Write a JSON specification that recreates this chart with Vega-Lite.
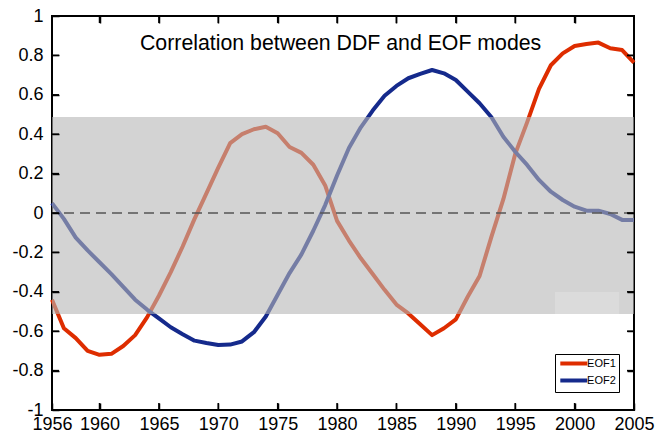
{
  "$schema": "https://vega.github.io/schema/vega-lite/v6.json",
  "width": 582,
  "height": 394,
  "autosize": {"type": "none"},
  "padding": {"left": 52, "top": 16, "right": 23, "bottom": 24},
  "background": "white",
  "config": {
    "view": {"stroke": "black", "strokeWidth": 2},
    "font": "Liberation Sans",
    "axis": {
      "grid": false,
      "domain": false,
      "labelColor": "black",
      "labelFont": "Liberation Sans",
      "labelFontSize": 18,
      "title": null
    }
  },
  "resolve": {"axis": {"x": "independent", "y": "independent"}},
  "layer": [
    {
      "data": {"values": [
        {"year": 1956, "EOF1": -0.44, "EOF2": 0.05},
        {"year": 1957, "EOF1": -0.585, "EOF2": -0.03},
        {"year": 1958, "EOF1": -0.635, "EOF2": -0.125},
        {"year": 1959, "EOF1": -0.70, "EOF2": -0.19},
        {"year": 1960, "EOF1": -0.72, "EOF2": -0.25},
        {"year": 1961, "EOF1": -0.715, "EOF2": -0.31},
        {"year": 1962, "EOF1": -0.675, "EOF2": -0.375},
        {"year": 1963, "EOF1": -0.62, "EOF2": -0.44},
        {"year": 1964, "EOF1": -0.53, "EOF2": -0.49},
        {"year": 1965, "EOF1": -0.42, "EOF2": -0.535},
        {"year": 1966, "EOF1": -0.30, "EOF2": -0.58},
        {"year": 1967, "EOF1": -0.17, "EOF2": -0.615},
        {"year": 1968, "EOF1": -0.03, "EOF2": -0.648},
        {"year": 1969, "EOF1": 0.10, "EOF2": -0.66},
        {"year": 1970, "EOF1": 0.23, "EOF2": -0.67},
        {"year": 1971, "EOF1": 0.355, "EOF2": -0.668},
        {"year": 1972, "EOF1": 0.40, "EOF2": -0.652},
        {"year": 1973, "EOF1": 0.425, "EOF2": -0.605},
        {"year": 1974, "EOF1": 0.438, "EOF2": -0.525},
        {"year": 1975, "EOF1": 0.405, "EOF2": -0.415},
        {"year": 1976, "EOF1": 0.335, "EOF2": -0.305},
        {"year": 1977, "EOF1": 0.305, "EOF2": -0.21},
        {"year": 1978, "EOF1": 0.245, "EOF2": -0.09},
        {"year": 1979, "EOF1": 0.14, "EOF2": 0.04},
        {"year": 1980, "EOF1": -0.04, "EOF2": 0.19},
        {"year": 1981, "EOF1": -0.14, "EOF2": 0.33},
        {"year": 1982, "EOF1": -0.23, "EOF2": 0.435},
        {"year": 1983, "EOF1": -0.31, "EOF2": 0.52},
        {"year": 1984, "EOF1": -0.39, "EOF2": 0.595},
        {"year": 1985, "EOF1": -0.465, "EOF2": 0.645},
        {"year": 1986, "EOF1": -0.51, "EOF2": 0.684},
        {"year": 1987, "EOF1": -0.565, "EOF2": 0.706},
        {"year": 1988, "EOF1": -0.62, "EOF2": 0.726},
        {"year": 1989, "EOF1": -0.585, "EOF2": 0.709},
        {"year": 1990, "EOF1": -0.54, "EOF2": 0.675},
        {"year": 1991, "EOF1": -0.425, "EOF2": 0.616},
        {"year": 1992, "EOF1": -0.32, "EOF2": 0.557},
        {"year": 1993, "EOF1": -0.12, "EOF2": 0.486},
        {"year": 1994, "EOF1": 0.07, "EOF2": 0.387},
        {"year": 1995, "EOF1": 0.30, "EOF2": 0.311},
        {"year": 1996, "EOF1": 0.46, "EOF2": 0.244},
        {"year": 1997, "EOF1": 0.63, "EOF2": 0.168},
        {"year": 1998, "EOF1": 0.75, "EOF2": 0.108},
        {"year": 1999, "EOF1": 0.81, "EOF2": 0.066},
        {"year": 2000, "EOF1": 0.848, "EOF2": 0.032},
        {"year": 2001, "EOF1": 0.858, "EOF2": 0.012},
        {"year": 2002, "EOF1": 0.865, "EOF2": 0.012},
        {"year": 2003, "EOF1": 0.836, "EOF2": -0.005},
        {"year": 2004, "EOF1": 0.827, "EOF2": -0.035},
        {"year": 2005, "EOF1": 0.763, "EOF2": -0.035}
      ]},
      "transform": [{"fold": ["EOF1", "EOF2"], "as": ["series", "value"]}],
      "mark": {"type": "line", "strokeWidth": 4, "strokeJoin": "round"},
      "encoding": {
        "x": {
          "field": "year", "type": "quantitative",
          "scale": {"domain": [1956, 2005], "nice": false, "zero": false},
          "axis": {"orient": "bottom", "values": [1956, 1960, 1965, 1970, 1975, 1980, 1985, 1990, 1995, 2000, 2005], "format": "d", "labelFlush": false,
            "ticks": true, "tickSize": 7, "tickColor": "#000000", "tickWidth": 1.5, "offset": -7, "labelPadding": 5, "zindex": 2}
        },
        "y": {
          "field": "value", "type": "quantitative",
          "scale": {"domain": [-1, 1], "nice": false, "zero": false},
          "axis": {"orient": "left", "values": [-1, -0.8, -0.6, -0.4, -0.2, 0, 0.2, 0.4, 0.6, 0.8, 1], "format": ".1~f", "labelExpr": "replace(datum.label, '−', '-')",
            "ticks": true, "tickSize": 7, "tickColor": "#000000", "tickWidth": 1.5, "offset": -7, "labelPadding": 9, "zindex": 2}
        },
        "color": {
          "field": "series", "type": "nominal",
          "scale": {"domain": ["EOF1", "EOF2"], "range": ["#de2d00", "#152a8c"]},
          "legend": {
            "title": null, "orient": "none", "legendX": 503, "legendY": 338,
            "strokeColor": "black", "fillColor": "white", "padding": 3,
            "labelFont": "Liberation Sans", "labelFontSize": 11, "labelColor": "black",
            "symbolType": "M-3.25,0H3.25", "symbolStrokeWidth": 4, "symbolSize": 69,
            "symbolOffset": 9.3, "labelOffset": 6.8, "rowPadding": 0
          }
        }
      }
    },
    {
      "data": {"values": [{"x1": 1956, "x2": 2005, "y1": -0.513, "y2": 0.487}]},
      "mark": {"type": "rect", "fill": "#b6b6b6", "opacity": 0.6},
      "encoding": {
        "x": {"field": "x1", "type": "quantitative", "scale": {"domain": [1956, 2005], "nice": false, "zero": false},
          "axis": {"orient": "top", "labels": false, "values": [1960, 1965, 1970, 1975, 1980, 1985, 1990, 1995, 2000],
            "ticks": true, "tickSize": 7, "tickColor": "#000000", "tickWidth": 1.5, "offset": -7, "zindex": 2}},
        "x2": {"field": "x2"},
        "y": {"field": "y1", "type": "quantitative", "scale": {"domain": [-1, 1], "nice": false, "zero": false},
          "axis": {"orient": "right", "labels": false, "values": [-0.8, -0.6, -0.4, -0.2, 0, 0.2, 0.4, 0.6, 0.8],
            "ticks": true, "tickSize": 7, "tickColor": "#000000", "tickWidth": 1.5, "offset": -7, "zindex": 2}},
        "y2": {"field": "y2"}
      }
    },
    {
      "data": {"values": [{"x1": 1998.35, "x2": 2003.75, "y1": -0.513, "y2": -0.401}]},
      "mark": {"type": "rect", "fill": "white", "opacity": 0.2},
      "encoding": {
        "x": {"field": "x1", "type": "quantitative", "axis": null},
        "x2": {"field": "x2"},
        "y": {"field": "y1", "type": "quantitative", "axis": null},
        "y2": {"field": "y2"}
      }
    },
    {
      "data": {"values": [{"v": 0}]},
      "mark": {"type": "rule", "stroke": "#555555", "strokeWidth": 1.3, "strokeDash": [10, 6]},
      "encoding": {"y": {"field": "v", "type": "quantitative", "axis": null}}
    },
    {
      "data": {"values": [
        {"p": 1960, "edge": 1}, {"p": 1965, "edge": 1}, {"p": 1970, "edge": 1}, {"p": 1975, "edge": 1}, {"p": 1980, "edge": 1},
        {"p": 1985, "edge": 1}, {"p": 1990, "edge": 1}, {"p": 1995, "edge": 1}, {"p": 2000, "edge": 1},
        {"p": 1960, "edge": -1}, {"p": 1965, "edge": -1}, {"p": 1970, "edge": -1}, {"p": 1975, "edge": -1}, {"p": 1980, "edge": -1},
        {"p": 1985, "edge": -1}, {"p": 1990, "edge": -1}, {"p": 1995, "edge": -1}, {"p": 2000, "edge": -1}
      ]},
      "mark": {"type": "tick", "orient": "vertical", "size": 14, "thickness": 1.5, "color": "black", "opacity": 1, "clip": true},
      "encoding": {
        "x": {"field": "p", "type": "quantitative", "axis": null},
        "y": {"field": "edge", "type": "quantitative", "axis": null}
      }
    },
    {
      "data": {"values": [
        {"v": -0.8, "edge": 1956}, {"v": -0.6, "edge": 1956}, {"v": -0.4, "edge": 1956}, {"v": -0.2, "edge": 1956}, {"v": 0, "edge": 1956},
        {"v": 0.2, "edge": 1956}, {"v": 0.4, "edge": 1956}, {"v": 0.6, "edge": 1956}, {"v": 0.8, "edge": 1956},
        {"v": -0.8, "edge": 2005}, {"v": -0.6, "edge": 2005}, {"v": -0.4, "edge": 2005}, {"v": -0.2, "edge": 2005}, {"v": 0, "edge": 2005},
        {"v": 0.2, "edge": 2005}, {"v": 0.4, "edge": 2005}, {"v": 0.6, "edge": 2005}, {"v": 0.8, "edge": 2005}
      ]},
      "mark": {"type": "tick", "orient": "horizontal", "size": 14, "thickness": 1.5, "color": "black", "opacity": 1, "clip": true},
      "encoding": {
        "x": {"field": "edge", "type": "quantitative", "axis": null},
        "y": {"field": "v", "type": "quantitative", "axis": null}
      }
    },
    {
      "data": {"values": [{"x": 1980.3, "y": 0.827, "t": "Correlation between DDF and EOF modes"}]},
      "mark": {"type": "text", "fontSize": 21.3, "font": "Liberation Sans", "baseline": "alphabetic", "align": "center", "color": "black"},
      "encoding": {
        "x": {"field": "x", "type": "quantitative", "axis": null},
        "y": {"field": "y", "type": "quantitative", "axis": null},
        "text": {"field": "t"}
      }
    }
  ]
}
